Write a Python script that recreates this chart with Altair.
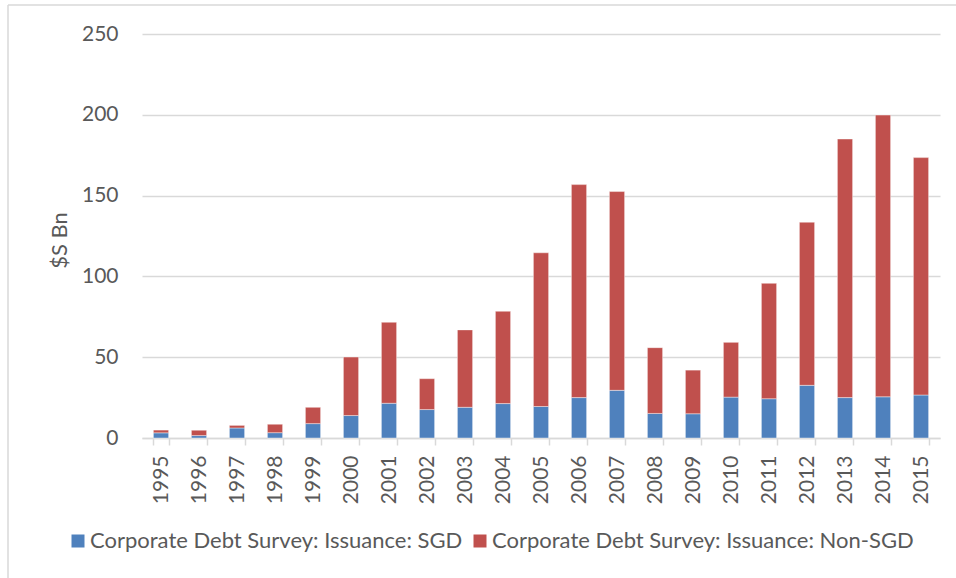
import altair as alt
import pandas as pd

years = [str(y) for y in range(1995, 2016)]
sgd = [3.2, 1.5, 6.2, 3.3, 8.9, 13.9, 21.5, 17.6, 19.0, 21.3, 19.5,
       25.0, 29.5, 15.2, 15.0, 25.3, 24.3, 32.6, 25.0, 25.5, 26.6]
non_sgd = [1.7, 3.3, 1.6, 5.2, 10.1, 36.2, 50.1, 19.1, 47.9, 57.1, 95.1,
           131.8, 123.0, 40.7, 27.0, 33.9, 71.4, 100.9, 160.0, 174.3, 146.9]
series = ["Corporate Debt Survey: Issuance: SGD",
          "Corporate Debt Survey: Issuance: Non-SGD"]
colors = ["#4F81BD", "#C0504D"]
y_ticks = [0, 50, 100, 150, 200, 250]

rows = []
for i, yr in enumerate(years):
    rows.append({"year": yr, "series": series[0], "value": sgd[i], "ord": 0})
    rows.append({"year": yr, "series": series[1], "value": non_sgd[i], "ord": 1})
df = pd.DataFrame(rows)

FONT = "Lato"
TXT = "#595959"
GRID = "#d9d9d9"

bars = alt.Chart(df).mark_bar(stroke="white", strokeWidth=0.5, strokeOpacity=0.8).encode(
    x=alt.X("year:N", sort=years,
            scale=alt.Scale(paddingInner=0.6, paddingOuter=0.3),
            axis=alt.Axis(title=None, labelAngle=-90, labelFont=FONT, labelFontSize=21,
                          labelColor=TXT, labelPadding=10, tickBand="extent",
                          tickSize=7, tickColor=GRID, tickWidth=1.5,
                          domainColor=GRID, domainWidth=1.5, grid=False)),
    y=alt.Y("value:Q", stack="zero",
            scale=alt.Scale(domain=[0, 250], nice=False),
            axis=alt.Axis(values=y_ticks, title="$S Bn", titleFont=FONT, titleFontSize=22,
                          titleFontWeight="normal", titleColor=TXT, titleAngle=-90,
                          titleX=-76, titleY=206, titleAlign="center",
                          titleBaseline="alphabetic",
                          labelFont=FONT, labelFontSize=21, labelColor=TXT,
                          labelPadding=24, ticks=False, domain=False,
                          grid=True, gridColor=GRID, gridWidth=1.5)),
    color=alt.Color("series:N", sort=series,
                    scale=alt.Scale(domain=series, range=colors),
                    legend=alt.Legend(title=None, orient="none", legendX=-75, legendY=496,
                                      direction="horizontal", symbolType="square",
                                      symbolSize=169, symbolStrokeWidth=0,
                                      labelFont=FONT, labelFontSize=22, labelColor=TXT,
                                      labelOffset=1, columnPadding=6, labelLimit=600)),
    order=alt.Order("ord:Q"),
)

frame_df = pd.DataFrame({"k": [0]})
left_border = alt.Chart(frame_df).mark_rule(color=GRID, strokeWidth=1.5).encode(
    x=alt.value(-134), y=alt.value(-29), y2=alt.value(560))
top_border = alt.Chart(frame_df).mark_rule(color=GRID, strokeWidth=1.5).encode(
    x=alt.value(-134), x2=alt.value(830), y=alt.value(-29))

chart = alt.layer(bars, left_border, top_border).properties(
    width=798, height=404,
    autosize=alt.AutoSizeParams(type="none"),
    padding={"left": 142, "top": 34, "right": 16, "bottom": 140},
).configure(background="white").configure_view(strokeWidth=0, stroke="transparent")

chart.save("out.html", embed_options={"renderer": "svg", "actions": False})
